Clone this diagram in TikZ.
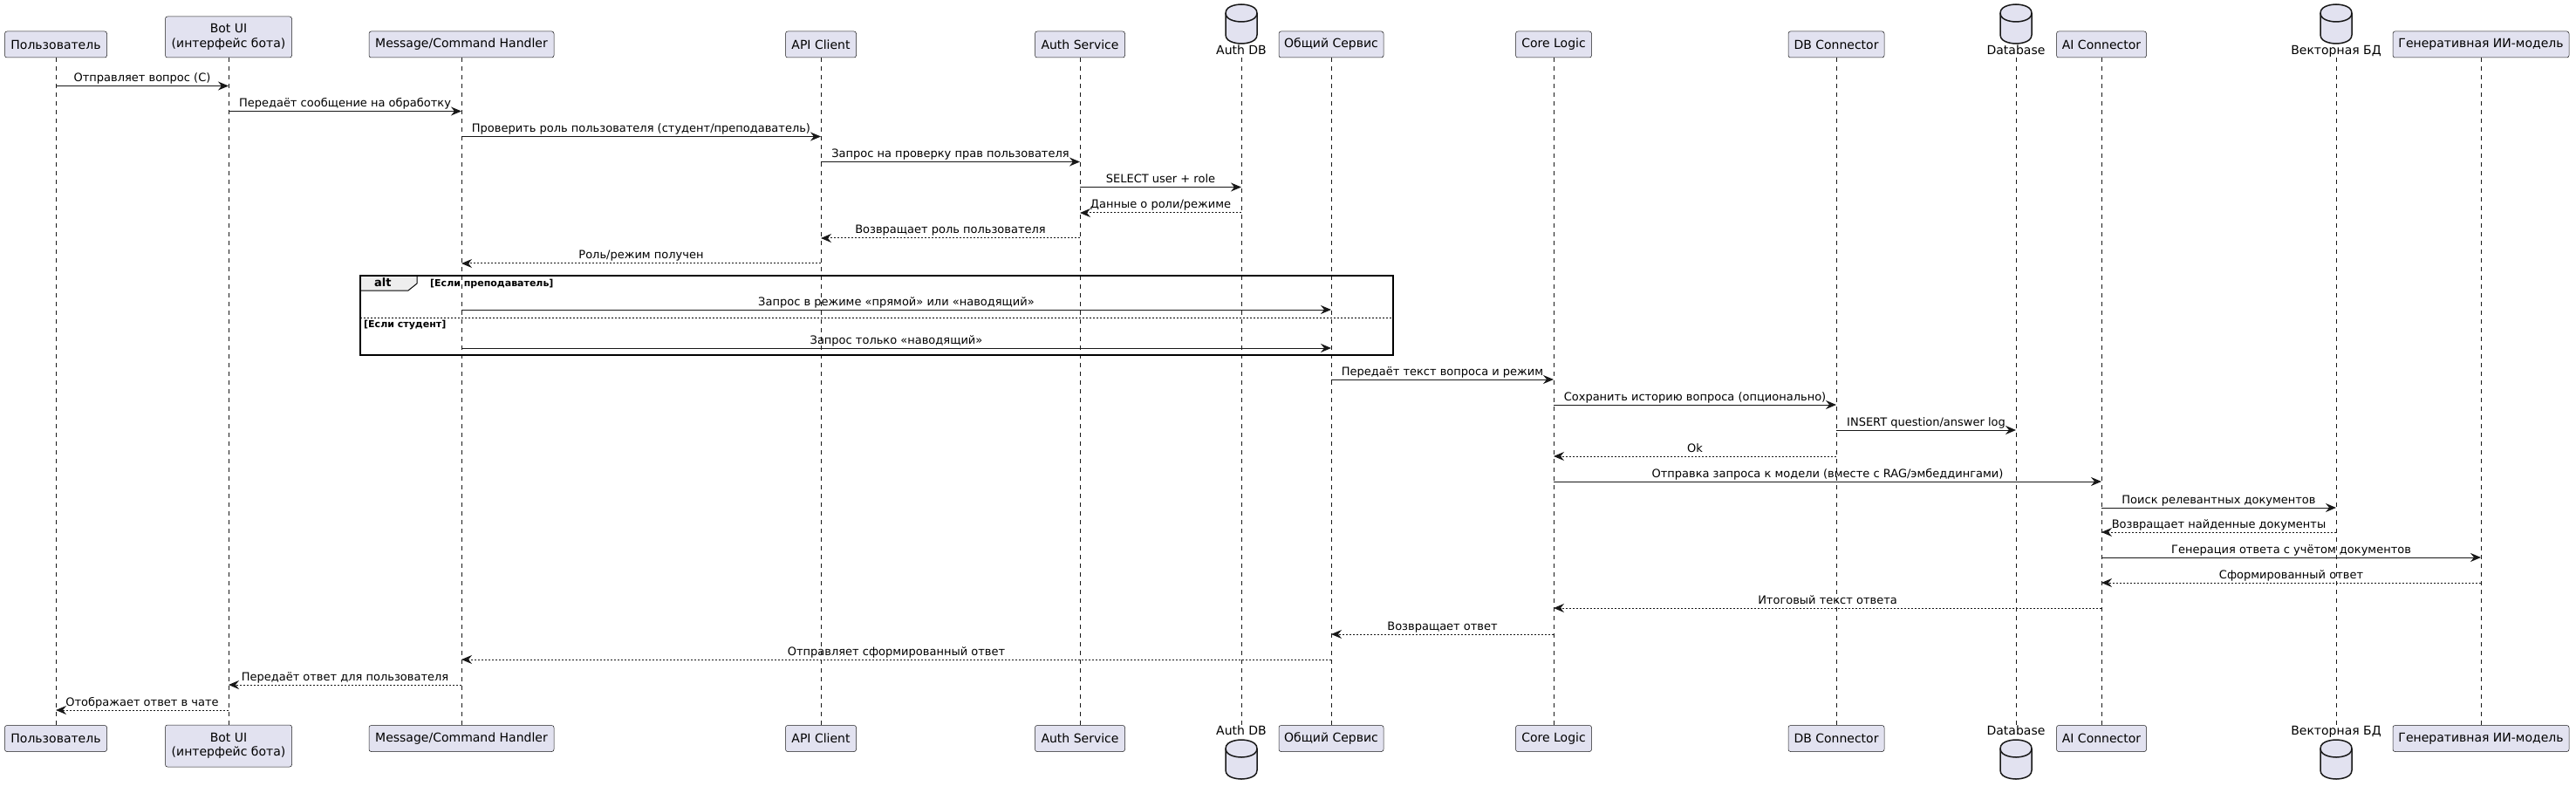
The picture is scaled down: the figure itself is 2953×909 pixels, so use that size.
\documentclass[tikz,border=0pt]{standalone}
\usepackage{fontspec}
\setmainfont{DejaVu Sans}
\usetikzlibrary{arrows.meta}
\definecolor{pfill}{HTML}{E2E2F0}
\definecolor{pline}{HTML}{181818}
\definecolor{tabfill}{HTML}{EEEEEE}
\tikzset{
  part/.style={draw=pline, fill=pfill, line width=0.5pt, rounded corners=2.5pt, inner sep=0pt,
    font=\fontsize{14}{16.5}\selectfont, align=center, minimum height=30pt},
  dblbl/.style={inner sep=0pt, font=\fontsize{14}{16.5}\selectfont, anchor=base},
  cyl/.style={draw=pline, fill=pfill, line width=1.5pt},
  life/.style={draw=pline, line width=0.5pt, dash pattern=on 5pt off 5pt},
  call/.style={draw=pline, line width=1pt, -{Stealth[length=12pt,width=10pt,inset=4pt]}},
  ret/.style={call, dash pattern=on 2pt off 2pt},
  lbl/.style={font=\fontsize{13}{15}\selectfont, anchor=base, inner sep=0pt, yshift=5pt, midway, text=black},
  frameline/.style={draw=black, line width=1.5pt},
  condlbl/.style={font=\fontsize{11}{13}\selectfont\bfseries, anchor=base west, inner sep=0pt},
}
\newcommand\dbcyl[2]{%
  \draw[cyl] ({#1-18},{#2+10}) .. controls ({#1-18},#2) and (#1,#2) .. (#1,#2)
    .. controls (#1,#2) and ({#1+18},#2) .. ({#1+18},{#2+10})
    -- ({#1+18},{#2+35})
    .. controls ({#1+18},{#2+45}) and (#1,{#2+45}) .. (#1,{#2+45})
    .. controls (#1,{#2+45}) and ({#1-18},{#2+45}) .. ({#1-18},{#2+35}) -- cycle;
  \draw[cyl, fill=none] ({#1-18},{#2+10}) .. controls ({#1-18},{#2+20}) and (#1,{#2+20}) .. (#1,{#2+20})
    .. controls (#1,{#2+20}) and ({#1+18},{#2+20}) .. ({#1+18},{#2+10});}
\newcommand\msg[5]{\draw[#1] (#2 |- 0,#4) -- node[lbl]{#5} (#3 |- 0,#4);}
\begin{document}
\begin{tikzpicture}[x=1pt,y=-1pt]
\useasboundingbox[fill=white] (0,0) rectangle (2953,909);
% header participants
\node[part, minimum width=117pt] (t1) at (64,51) {Пользователь};
\node[part, minimum width=145pt, minimum height=47pt] (t2) at (262,42.5) {Bot UI\\(интерфейс бота)};
\node[part, minimum width=212pt] (t3) at (529,51) {Message/Command Handler};
\node[part, minimum width=81pt] (t4) at (941,51) {API Client};
\node[part, minimum width=103pt] (t5) at (1238,51) {Auth Service};
\dbcyl{1423}{5}
\node[dblbl] (t6) at (1423,63) {Auth DB};
\node[part, minimum width=120pt] (t7) at (1526,51) {Общий Сервис};
\node[part, minimum width=87pt] (t8) at (1781,51) {Core Logic};
\node[part, minimum width=110pt] (t9) at (2105,51) {DB Connector};
\dbcyl{2311}{5}
\node[dblbl] (t10) at (2311,63) {Database};
\node[part, minimum width=103pt] (t11) at (2409,51) {AI Connector};
\dbcyl{2678}{5}
\node[dblbl] (t12) at (2678,63) {Векторная БД};
\node[part, minimum width=202pt] (t13) at (2844,51) {Генеративная ИИ-модель};
% footer participants
\node[part, minimum width=117pt] (b1) at (64,846.5) {Пользователь};
\node[part, minimum width=145pt, minimum height=48pt] (b2) at (262,855) {Bot UI\\(интерфейс бота)};
\node[part, minimum width=212pt] (b3) at (529,846.5) {Message/Command Handler};
\node[part, minimum width=81pt] (b4) at (941,846.5) {API Client};
\node[part, minimum width=103pt] (b5) at (1238,846.5) {Auth Service};
\node[dblbl] (b6) at (1423,842) {Auth DB};
\dbcyl{1423}{848}
\node[part, minimum width=120pt] (b7) at (1526,846.5) {Общий Сервис};
\node[part, minimum width=87pt] (b8) at (1781,846.5) {Core Logic};
\node[part, minimum width=110pt] (b9) at (2105,846.5) {DB Connector};
\node[dblbl] (b10) at (2311,842) {Database};
\dbcyl{2311}{848}
\node[part, minimum width=103pt] (b11) at (2409,846.5) {AI Connector};
\node[dblbl] (b12) at (2678,842) {Векторная БД};
\dbcyl{2678}{848}
\node[part, minimum width=202pt] (b13) at (2844,846.5) {Генеративная ИИ-модель};
% lifelines
\foreach \i in {1,...,13} {
  \coordinate (l\i) at (t\i.south);
  \draw[life] (t\i.south |- 0,66) -- (b\i.north |- 0,831);
}
% alt frame
\draw[frameline, line width=1pt, fill=tabfill] (413,316) -- (478,316) -- (478,325) -- (468,333) -- (413,333);
\draw[frameline] (413,316) rectangle (1597,407);
\draw[draw=black, line width=1pt, dash pattern=on 2pt off 2pt] (413,364) -- (1597,364);
\node[font=\fontsize{13}{15}\selectfont\bfseries, anchor=base west, inner sep=0pt] (altlbl) at (429,329) {alt};
\node[condlbl] (cond1) at (493,329) {[Если преподаватель]};
\node[condlbl] (cond2) at (417,375) {[Если студент]};
% messages
\msg{call}{l1}{l2}{98.5}{Отправляет вопрос (С)}
\msg{call}{l2}{l3}{127.5}{Передаёт сообщение на обработку}
\msg{call}{l3}{l4}{156.5}{Проверить роль пользователя (студент/преподаватель)}
\msg{call}{l4}{l5}{185.5}{Запрос на проверку прав пользователя}
\msg{call}{l5}{l6}{214.5}{SELECT user + role}
\msg{ret}{l6}{l5}{244}{Данные о роли/режиме}
\msg{ret}{l5}{l4}{273}{Возвращает роль пользователя}
\msg{ret}{l4}{l3}{302}{Роль/режим получен}
\msg{call}{l3}{l7}{355}{Запрос в режиме «прямой» или «наводящий»}
\msg{call}{l3}{l7}{399}{Запрос только «наводящий»}
\msg{call}{l7}{l8}{435}{Передаёт текст вопроса и режим}
\msg{call}{l8}{l9}{464}{Сохранить историю вопроса (опционально)}
\msg{call}{l9}{l10}{493}{INSERT question/answer log}
\msg{ret}{l9}{l8}{523}{Ok}
\msg{call}{l8}{l11}{552}{Отправка запроса к модели (вместе с RAG/эмбеддингами)}
\msg{call}{l11}{l12}{582}{Поиск релевантных документов}
\msg{ret}{l12}{l11}{610}{Возвращает найденные документы}
\msg{call}{l11}{l13}{639}{Генерация ответа с учётом документов}
\msg{ret}{l13}{l11}{668}{Сформированный ответ}
\msg{ret}{l11}{l8}{697}{Итоговый текст ответа}
\msg{ret}{l8}{l7}{727}{Возвращает ответ}
\msg{ret}{l7}{l3}{756}{Отправляет сформированный ответ}
\msg{ret}{l3}{l2}{785}{Передаёт ответ для пользователя}
\msg{ret}{l2}{l1}{814}{Отображает ответ в чате}
\end{tikzpicture}
\end{document}
